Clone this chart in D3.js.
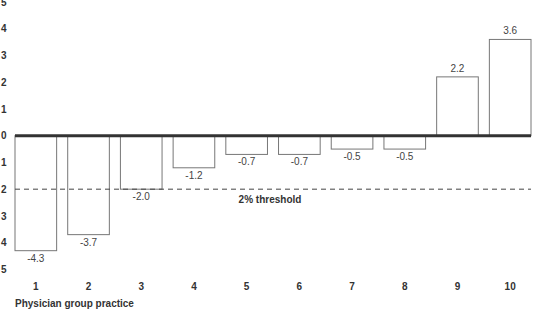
<!DOCTYPE html>
<html>
<head>
<meta charset="utf-8">
<script src="https://cdn.jsdelivr.net/npm/d3@7"></script>
<style>
  body { margin: 0; background: #fff; }
  svg { display: block; font-family: "Liberation Sans", Arial, Helvetica, sans-serif; }
</style>
</head>
<body>
<script>
// data
const practices = ['1', '2', '3', '4', '5', '6', '7', '8', '9', '10']
const values = [-4.3, -3.7, -2.0, -1.2, -0.7, -0.7, -0.5, -0.5, 2.2, 3.6]
const yTicks = [5, 4, 3, 2, 1, 0, -1, -2, -3, -4, -5]
const threshold = -2
const thresholdLabel = '2% threshold'
const xTitle = 'Physician group practice'

const width = 533, height = 316

const x = d3.scaleBand()
    .domain(practices)
    .range([15, 531])
    .paddingInner(0.21)
    .paddingOuter(0)

const y = d3.scaleLinear()
    .domain([-5, 5])
    .range([269.4, 2])

const svg = d3.select('body').append('svg')
    .attr('width', width)
    .attr('height', height)

// y tick labels (absolute values, no minus sign)
svg.append('g')
    .selectAll('text')
    .data(yTicks)
    .join('text')
    .attr('x', 1)
    .attr('y', d => y(d))
    .attr('dy', '0.36em')
    .attr('font-size', 10)
    .attr('font-weight', 'bold')
    .attr('fill', '#333')
    .text(d => Math.abs(d))

const rows = practices.map((p, i) => ({ p, v: values[i] }))

// bars
svg.append('g')
    .selectAll('rect')
    .data(rows)
    .join('rect')
    .attr('x', d => x(d.p))
    .attr('y', d => y(Math.max(0, d.v)))
    .attr('width', x.bandwidth())
    .attr('height', d => Math.abs(y(d.v) - y(0)))
    .attr('fill', '#fff')
    .attr('stroke', '#777')
    .attr('stroke-width', 1)

// value labels
svg.append('g')
    .selectAll('text')
    .data(rows)
    .join('text')
    .attr('x', d => x(d.p) + x.bandwidth() / 2)
    .attr('y', d => d.v < 0 ? y(d.v) + 11 : y(d.v) - 5)
    .attr('text-anchor', 'middle')
    .attr('font-size', 10)
    .attr('fill', '#444')
    .text(d => d.v.toFixed(1))

// threshold line
svg.append('line')
    .attr('x1', x.range()[0])
    .attr('x2', x.range()[1])
    .attr('y1', y(threshold))
    .attr('y2', y(threshold))
    .attr('stroke', '#444')
    .attr('stroke-width', 1)
    .attr('stroke-dasharray', '5,4')

svg.append('text')
    .attr('x', 270)
    .attr('y', y(threshold) + 14)
    .attr('text-anchor', 'middle')
    .attr('font-size', 10)
    .attr('font-weight', 'bold')
    .attr('fill', '#333')
    .text(thresholdLabel)

// zero line
svg.append('line')
    .attr('x1', x.range()[0])
    .attr('x2', x.range()[1])
    .attr('y1', y(0))
    .attr('y2', y(0))
    .attr('stroke', '#333')
    .attr('stroke-width', 3)

// x labels
svg.append('g')
    .selectAll('text')
    .data(practices)
    .join('text')
    .attr('x', d => x(d) + x.bandwidth() / 2)
    .attr('y', 286)
    .attr('dy', '0.36em')
    .attr('text-anchor', 'middle')
    .attr('font-size', 10)
    .attr('font-weight', 'bold')
    .attr('fill', '#333')
    .text(d => d)

svg.append('text')
    .attr('x', 15)
    .attr('y', 303)
    .attr('dy', '0.36em')
    .attr('font-size', 10)
    .attr('font-weight', 'bold')
    .attr('fill', '#333')
    .text(xTitle)
</script>
</body>
</html>
